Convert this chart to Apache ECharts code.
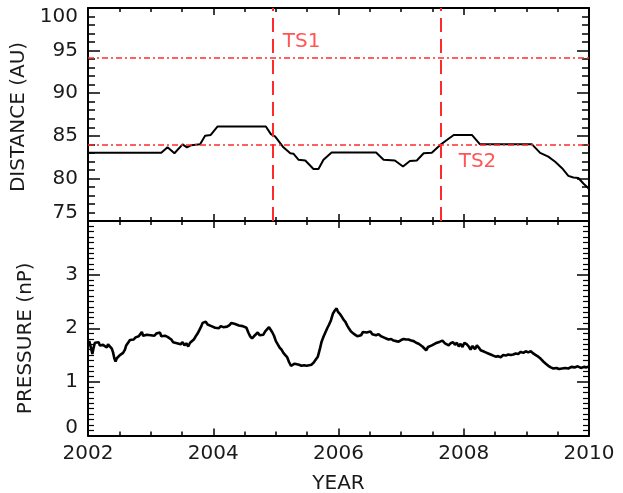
<!DOCTYPE html>
<html>
<head>
<meta charset="utf-8">
<script src="https://cdn.jsdelivr.net/npm/echarts@6/dist/echarts.min.js"></script>
<style>
  html, body { margin: 0; padding: 0; background: #fff; }
  #chart { width: 623px; height: 493px; }
</style>
</head>
<body>
<div id="chart"></div>
<script>
// ---- Data ----
const xTickYears = [2002, 2004, 2006, 2008, 2010];

const distanceYears = [2002.00, 2003.17, 2003.27, 2003.38, 2003.51, 2003.58, 2003.65, 2003.68, 2003.79, 2003.87,
  2003.96, 2004.07, 2004.84, 2004.92, 2004.99, 2005.12, 2005.23, 2005.28, 2005.36, 2005.47,
  2005.60, 2005.68, 2005.76, 2005.89, 2006.60, 2006.72, 2006.90, 2007.03, 2007.14, 2007.25,
  2007.36, 2007.49, 2007.62, 2007.73, 2007.84, 2008.13, 2008.26, 2009.09, 2009.22, 2009.35,
  2009.46, 2009.57, 2009.67, 2009.75, 2009.83, 2009.91, 2009.97, 2010.00];
const distanceAU = [83.0, 83.0, 83.65, 82.95, 84.0, 83.65, 83.9, 84.0, 84.0, 85.0,
  85.1, 86.1, 86.1, 85.2, 84.9, 83.65, 82.95, 82.9, 82.2, 82.1,
  81.1, 81.1, 82.2, 83.05, 83.05, 82.2, 82.1, 81.4, 82.05, 82.1,
  82.95, 83.0, 83.9, 84.5, 85.1, 85.1, 84.0, 84.0, 83.0, 82.55,
  81.96, 81.2, 80.3, 80.1, 80.05, 79.4, 79.0, 78.75];

const pressureYears = [2002.00, 2002.02, 2002.05, 2002.07, 2002.09, 2002.11, 2002.14, 2002.17, 2002.19, 2002.22,
  2002.24, 2002.27, 2002.30, 2002.32, 2002.35, 2002.38, 2002.40, 2002.42, 2002.44, 2002.46,
  2002.48, 2002.51, 2002.54, 2002.56, 2002.59, 2002.61, 2002.64, 2002.67, 2002.70, 2002.73,
  2002.76, 2002.78, 2002.81, 2002.84, 2002.86, 2002.88, 2002.91, 2002.94, 2002.97, 2003.00,
  2003.03, 2003.06, 2003.09, 2003.12, 2003.15, 2003.17, 2003.20, 2003.23, 2003.27, 2003.30,
  2003.33, 2003.36, 2003.39, 2003.42, 2003.45, 2003.48, 2003.51, 2003.54, 2003.57, 2003.60,
  2003.63, 2003.66, 2003.69, 2003.72, 2003.75, 2003.78, 2003.81, 2003.83, 2003.86, 2003.88,
  2003.91, 2003.94, 2003.97, 2004.00, 2004.03, 2004.06, 2004.09, 2004.12, 2004.16, 2004.19,
  2004.22, 2004.26, 2004.29, 2004.32, 2004.35, 2004.38, 2004.41, 2004.44, 2004.47, 2004.50,
  2004.53, 2004.56, 2004.59, 2004.62, 2004.65, 2004.68, 2004.71, 2004.74, 2004.77, 2004.80,
  2004.83, 2004.86, 2004.89, 2004.91, 2004.94, 2004.97, 2005.00, 2005.03, 2005.06, 2005.09,
  2005.12, 2005.15, 2005.18, 2005.21, 2005.24, 2005.27, 2005.30, 2005.33, 2005.37, 2005.41,
  2005.45, 2005.49, 2005.53, 2005.57, 2005.61, 2005.64, 2005.67, 2005.70, 2005.73, 2005.76,
  2005.79, 2005.82, 2005.85, 2005.88, 2005.91, 2005.94, 2005.97, 2005.99, 2006.02, 2006.05,
  2006.08, 2006.11, 2006.14, 2006.17, 2006.20, 2006.24, 2006.27, 2006.30, 2006.33, 2006.36,
  2006.39, 2006.42, 2006.45, 2006.48, 2006.51, 2006.54, 2006.57, 2006.60, 2006.64, 2006.68,
  2006.72, 2006.76, 2006.80, 2006.84, 2006.88, 2006.92, 2006.96, 2007.00, 2007.04, 2007.08,
  2007.12, 2007.16, 2007.20, 2007.24, 2007.28, 2007.31, 2007.34, 2007.37, 2007.40, 2007.43,
  2007.46, 2007.49, 2007.52, 2007.55, 2007.58, 2007.62, 2007.66, 2007.70, 2007.73, 2007.76,
  2007.79, 2007.83, 2007.86, 2007.89, 2007.92, 2007.95, 2007.98, 2008.01, 2008.05, 2008.08,
  2008.11, 2008.14, 2008.18, 2008.21, 2008.24, 2008.27, 2008.31, 2008.35, 2008.39, 2008.43,
  2008.47, 2008.51, 2008.55, 2008.59, 2008.63, 2008.67, 2008.71, 2008.75, 2008.79, 2008.83,
  2008.87, 2008.91, 2008.95, 2008.99, 2009.03, 2009.07, 2009.11, 2009.15, 2009.19, 2009.23,
  2009.27, 2009.31, 2009.35, 2009.39, 2009.43, 2009.48, 2009.52, 2009.57, 2009.62, 2009.67,
  2009.72, 2009.77, 2009.82, 2009.87, 2009.92, 2009.96, 2010.00];
const pressureNP = [1.70, 1.76, 1.62, 1.52, 1.64, 1.73, 1.70, 1.74, 1.68, 1.71,
  1.69, 1.66, 1.64, 1.70, 1.69, 1.62, 1.55, 1.44, 1.38, 1.44,
  1.46, 1.50, 1.49, 1.54, 1.60, 1.68, 1.71, 1.78, 1.80, 1.79,
  1.83, 1.81, 1.85, 1.88, 1.93, 1.86, 1.85, 1.88, 1.85, 1.87,
  1.89, 1.86, 1.90, 1.87, 1.92, 1.85, 1.88, 1.86, 1.84, 1.82,
  1.79, 1.74, 1.76, 1.72, 1.75, 1.70, 1.74, 1.68, 1.72, 1.66,
  1.73, 1.70, 1.79, 1.85, 1.90, 1.97, 2.04, 2.10, 2.08, 2.12,
  2.07, 2.09, 2.04, 2.05, 2.01, 2.03, 2.00, 2.04, 2.02, 2.05,
  2.03, 2.06, 2.10, 2.13, 2.08, 2.10, 2.05, 2.07, 2.04, 2.06,
  2.01, 1.92, 1.85, 1.81, 1.85, 1.88, 1.92, 1.87, 1.90, 1.88,
  1.94, 1.96, 2.02, 1.99, 1.93, 1.86, 1.76, 1.70, 1.64, 1.60,
  1.54, 1.50, 1.46, 1.37, 1.30, 1.32, 1.34, 1.31, 1.32, 1.30,
  1.31, 1.30, 1.31, 1.32, 1.37, 1.42, 1.47, 1.60, 1.75, 1.84,
  1.92, 2.00, 2.07, 2.15, 2.27, 2.33, 2.37, 2.31, 2.27, 2.22,
  2.16, 2.12, 2.05, 1.99, 1.94, 1.90, 1.87, 1.85, 1.82, 1.87,
  1.93, 1.90, 1.92, 1.89, 1.94, 1.89, 1.91, 1.87, 1.89, 1.85,
  1.83, 1.81, 1.79, 1.80, 1.77, 1.76, 1.75, 1.78, 1.80, 1.79,
  1.79, 1.77, 1.76, 1.73, 1.71, 1.68, 1.66, 1.63, 1.59, 1.65,
  1.62, 1.68, 1.66, 1.72, 1.70, 1.75, 1.77, 1.72, 1.74, 1.68,
  1.72, 1.74, 1.69, 1.73, 1.66, 1.71, 1.65, 1.73, 1.70, 1.66,
  1.60, 1.67, 1.61, 1.68, 1.64, 1.59, 1.57, 1.55, 1.53, 1.51,
  1.49, 1.47, 1.48, 1.46, 1.50, 1.49, 1.51, 1.50, 1.51, 1.53,
  1.52, 1.56, 1.54, 1.57, 1.55, 1.57, 1.53, 1.50, 1.47, 1.43,
  1.38, 1.34, 1.30, 1.27, 1.25, 1.26, 1.24, 1.25, 1.26, 1.25,
  1.28, 1.27, 1.29, 1.26, 1.28, 1.27, 1.29];

// Reference lines (termination shock crossings)
const tsNames = ['TS1', 'TS2'];
const tsYears = [2004.95, 2007.64];          // vertical dashed lines
const tsDistances = [94.2, 84.0];            // horizontal dash-dot lines
const tsLabelYears = [2005.41, 2008.22];     // label anchor positions
const tsLabelDistances = [96.0, 81.95];

// ---- Chart ----
const RED = '#ff2b2b';
const FONT = 'DejaVu Sans';
const TXT = '#1a1a1a';
const zip = (a, b) => a.map((v, i) => [v, b[i]]);

function xAxisDef(gridIndex, position, showLabels) {
  return {
    type: 'value', gridIndex, position, min: 2002, max: 2010, interval: 2,
    axisLine: { show: true, onZero: false, lineStyle: { color: '#000', width: 2 } },
    axisTick: { show: true, inside: true, length: 7, lineStyle: { color: '#000', width: 1.5 } },
    minorTick: { show: true, splitNumber: 4, length: 4, lineStyle: { color: '#000', width: 1.5 } },
    splitLine: { show: false },
    axisLabel: showLabels ? {
      show: true, margin: 8, color: TXT, fontFamily: FONT, fontSize: 20,
      formatter: v => xTickYears.includes(v) ? String(v) : ''
    } : { show: false }
  };
}

const chart = echarts.init(document.getElementById('chart'), null, { renderer: 'canvas' });
chart.setOption({
  animation: false,
  backgroundColor: '#fff',
  grid: [
    { left: 88, top: 8, right: 34, height: 213, outerBoundsMode: 'none', containLabel: false },
    { left: 88, top: 221, right: 34, bottom: 57.5, outerBoundsMode: 'none', containLabel: false }
  ],
  xAxis: [
    xAxisDef(0, 'bottom', false),
    xAxisDef(0, 'top', false),
    Object.assign(xAxisDef(1, 'bottom', true), {
      name: 'YEAR', nameLocation: 'middle', nameGap: 38,
      nameTextStyle: { fontFamily: FONT, fontSize: 20, color: TXT }
    }),
    xAxisDef(1, 'top', false)
  ],
  yAxis: [
    {
      type: 'value', gridIndex: 0, position: 'left', min: 75, max: 100, interval: 5,
      name: 'DISTANCE (AU)', nameLocation: 'middle', nameGap: 52,
      nameTextStyle: { fontFamily: FONT, fontSize: 20, color: TXT, padding: [0, 5, 0, 0] },
      axisLine: { show: true, lineStyle: { color: '#000', width: 2 } },
      axisTick: { show: true, inside: true, length: 12, lineStyle: { color: '#000', width: 1.5 } },
      minorTick: { show: true, splitNumber: 5, length: 7, lineStyle: { color: '#000', width: 1.5 } },
      splitLine: { show: false },
      axisLabel: {
        margin: 10, color: TXT, fontFamily: FONT, fontSize: 20, lineHeight: 17,
        formatter: v => v === 100 ? '\n100' : (v === 75 ? '75\n' : String(v))
      }
    },
    {
      type: 'value', gridIndex: 0, position: 'right', min: 75, max: 100, interval: 5,
      axisLine: { show: true, lineStyle: { color: '#000', width: 2 } },
      axisTick: { show: true, inside: true, length: 12, lineStyle: { color: '#000', width: 1.5 } },
      minorTick: { show: true, splitNumber: 5, length: 7, lineStyle: { color: '#000', width: 1.5 } },
      splitLine: { show: false },
      axisLabel: { show: false }
    },
    {
      type: 'value', gridIndex: 1, position: 'left', min: 0, max: 4, interval: 1,
      name: 'PRESSURE (nP)', nameLocation: 'middle', nameGap: 52,
      nameTextStyle: { fontFamily: FONT, fontSize: 20, color: TXT, padding: [0, 20, 0, 0] },
      axisLine: { show: true, lineStyle: { color: '#000', width: 2 } },
      axisTick: { show: true, inside: true, length: 12, lineStyle: { color: '#000', width: 1.5 } },
      minorTick: { show: true, splitNumber: 10, length: 6, lineStyle: { color: '#000', width: 1.2 } },
      splitLine: { show: false },
      axisLabel: {
        margin: 10, color: TXT, fontFamily: FONT, fontSize: 20, lineHeight: 16,
        formatter: v => v === 4 ? '' : (v === 0 ? '0\n' : String(v))
      }
    },
    {
      type: 'value', gridIndex: 1, position: 'right', min: 0, max: 4, interval: 1,
      axisLine: { show: true, lineStyle: { color: '#000', width: 2 } },
      axisTick: { show: true, inside: true, length: 12, lineStyle: { color: '#000', width: 1.5 } },
      minorTick: { show: true, splitNumber: 10, length: 6, lineStyle: { color: '#000', width: 1.2 } },
      splitLine: { show: false },
      axisLabel: { show: false }
    }
  ],
  series: [
    {
      type: 'line', xAxisIndex: 0, yAxisIndex: 0,
      data: zip(distanceYears, distanceAU),
      showSymbol: false, symbol: 'none',
      lineStyle: { color: '#000', width: 2 },
      z: 3,
      markLine: {
        silent: true, symbol: ['none', 'none'], label: { show: false },
        animation: false,
        data: [
          ...tsDistances.map(d => ({ yAxis: d, lineStyle: { color: RED, width: 1.6, type: [6, 3, 2, 3] } })),
          ...tsYears.map(y => ({ xAxis: y, lineStyle: { color: RED, width: 2, type: [14, 7] } }))
        ]
      }
    },
    {
      type: 'scatter', xAxisIndex: 0, yAxisIndex: 0,
      data: tsNames.map((n, i) => ({ name: n, value: [tsLabelYears[i], tsLabelDistances[i]] })),
      symbolSize: 0, silent: true,
      label: {
        show: true, position: 'inside', formatter: p => p.name,
        color: RED, fontFamily: FONT, fontSize: 20
      }
    },
    {
      type: 'line', xAxisIndex: 2, yAxisIndex: 2,
      data: zip(pressureYears, pressureNP),
      showSymbol: false, symbol: 'none',
      lineStyle: { color: '#000', width: 2.6 }
    }
  ]
});
</script>
</body>
</html>
